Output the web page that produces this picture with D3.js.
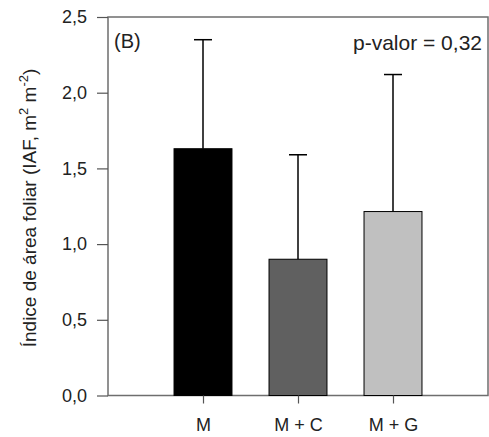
<!DOCTYPE html>
<html lang="es">
<head>
    <meta charset="UTF-8">
    <title>IAF</title>
    <script src="https://d3js.org/d3.v7.min.js"></script>
    <style>
        body { margin: 0; background: #fff; }
        svg { display: block; font-family: Arial, "Liberation Sans", sans-serif; }
    </style>
</head>
<body>
    <script>
        // datos
        let categories = ["M", "M + C", "M + G"];
        let means = [1.63, 0.90, 1.215];
        let errUp = [0.72, 0.69, 0.905];   // desvio (solo hacia arriba)
        let fills = ["#000000", "#606060", "#c0c0c0"];
        let yTicks = [0, 0.5, 1.0, 1.5, 2.0, 2.5];

        let width = 489, height = 437;
        let pLeft = 108, pRight = 488, pTop = 17, pBottom = 395.5;

        let svg = d3.select("body")
                    .append("svg")
                    .attr("width", width)
                    .attr("height", height);

        let x = d3.scalePoint()
                  .domain(categories)
                  .range([pLeft, pRight])
                  .padding(1);
        let barW = x.step() * 0.61;

        let y = d3.scaleLinear()
                  .domain([0, 2.5])
                  .range([pBottom, pTop]);

        let fmt = d => d3.format(".1f")(d).replace(".", ",");

        // marco
        svg.append("rect")
           .attr("x", pLeft)
           .attr("y", pTop)
           .attr("width", pRight - pLeft)
           .attr("height", pBottom - pTop)
           .attr("fill", "none")
           .attr("stroke", "#6e6e6e")
           .attr("stroke-width", 1.5);

        // barras
        let g = svg.selectAll(".bar")
                   .data(categories)
                   .enter()
                   .append("g");

        g.append("line")
         .attr("x1", d => x(d))
         .attr("x2", d => x(d))
         .attr("y1", (d, i) => y(means[i]))
         .attr("y2", (d, i) => y(means[i] + errUp[i]))
         .attr("stroke", "#000")
         .attr("stroke-width", 1.5);

        g.append("line")
         .attr("x1", d => x(d) - 9)
         .attr("x2", d => x(d) + 9)
         .attr("y1", (d, i) => y(means[i] + errUp[i]))
         .attr("y2", (d, i) => y(means[i] + errUp[i]))
         .attr("stroke", "#000")
         .attr("stroke-width", 1.5);

        g.append("rect")
         .attr("x", d => x(d) - barW / 2)
         .attr("y", (d, i) => y(means[i]))
         .attr("width", barW)
         .attr("height", (d, i) => y(0) - y(means[i]))
         .attr("fill", (d, i) => fills[i])
         .attr("stroke", "#000")
         .attr("stroke-width", 1);

        // ejes
        let yAxis = svg.append("g")
                       .attr("transform", `translate(${pLeft},0)`)
                       .call(d3.axisLeft(y).tickValues(yTicks).tickFormat(fmt).tickSize(11).tickPadding(10));
        yAxis.select(".domain").remove();
        yAxis.selectAll("line").attr("stroke", "#555").attr("stroke-width", 1.2);
        yAxis.selectAll("text").attr("font-size", 18).attr("fill", "#222").attr("font-family", "Arial, 'Liberation Sans', sans-serif");

        let xAxis = svg.append("g")
                       .attr("transform", `translate(0,${pBottom})`)
                       .call(d3.axisBottom(x).tickSize(8).tickPadding(15));
        xAxis.select(".domain").remove();
        xAxis.selectAll("line").attr("stroke", "#555").attr("stroke-width", 1.2);
        xAxis.selectAll("text").attr("font-size", 18).attr("fill", "#222").attr("font-family", "Arial, 'Liberation Sans', sans-serif");

        // titulo eje y
        let yl = svg.append("text")
                    .attr("transform", "translate(36,208) rotate(-90)")
                    .attr("text-anchor", "middle")
                    .attr("font-size", 19)
                    .attr("fill", "#222");
        yl.append("tspan").text("Índice de área foliar (IAF, m");
        yl.append("tspan").attr("font-size", 13).attr("dy", -8).text("2");
        yl.append("tspan").attr("dy", 8).text(" m");
        yl.append("tspan").attr("font-size", 13).attr("dy", -8).text("-2");
        yl.append("tspan").attr("dy", 8).text(")");

        // anotaciones
        svg.append("text")
           .attr("x", 114)
           .attr("y", 48)
           .attr("font-size", 20)
           .attr("fill", "#222")
           .text("(B)");

        svg.append("text")
           .attr("x", 482)
           .attr("y", 50)
           .attr("text-anchor", "end")
           .attr("font-size", 21)
           .attr("fill", "#222")
           .text("p-valor = 0,32");
    </script>
</body>
</html>
